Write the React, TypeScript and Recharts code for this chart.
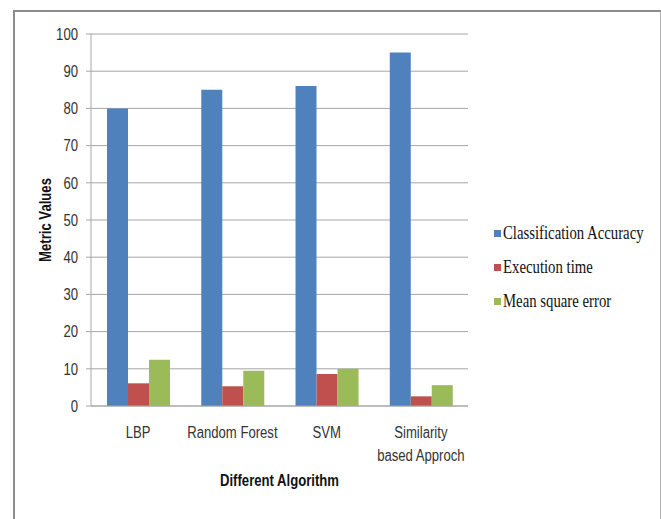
import { Bar, BarChart, CartesianGrid, Legend, XAxis, YAxis } from "recharts";

const algorithms = ["LBP", "Random Forest", "SVM", "Similarity based Approch"];
const classificationAccuracy = [80, 85, 86, 95];
const executionTime = [6.1, 5.3, 8.6, 2.6];
const meanSquareError = [12.4, 9.5, 10, 5.6];
const yTicks = [0, 10, 20, 30, 40, 50, 60, 70, 80, 90, 100];

const data = algorithms.map((algorithm, i) => ({
  algorithm,
  accuracy: classificationAccuracy[i],
  execTime: executionTime[i],
  mse: meanSquareError[i],
}));

// tick marks between categories, Excel style
const edgeTicks = algorithms.map((_, i) => i).concat(algorithms.length);

const sansFont = "'Liberation Sans', Arial, sans-serif";
const narrow = 0.82;
const gridGray = "#a6a6a6";

// greedy word wrap for long category names
function wrapLabel(label: string, maxChars = 14) {
  const lines: string[] = [];
  let line = "";
  for (const word of label.split(" ")) {
    const next = line ? line + " " + word : word;
    if (next.length > maxChars && line) {
      lines.push(line);
      line = word;
    } else {
      line = next;
    }
  }
  if (line) lines.push(line);
  return lines;
}

function ValueTick(props: any) {
  const { x, y, payload } = props;
  return (
    <text
      transform={`translate(${x},${y}) scale(${narrow},1)`}
      textAnchor="end"
      dy="0.36em"
      fontFamily={sansFont}
      fontSize={16}
      fill="#333"
    >
      {payload.value}
    </text>
  );
}

function CategoryTick(props: any) {
  const { x, y, payload } = props;
  const lines = wrapLabel(String(payload.value));
  return (
    <g transform={`translate(${x},${y + 24}) scale(${narrow},1)`}>
      {lines.map((line, i) => (
        <text key={line} x={0} y={i * 23} textAnchor="middle" fontFamily={sansFont} fontSize={16} fill="#333">
          {line}
        </text>
      ))}
    </g>
  );
}

function XTitle(props: any) {
  const { viewBox } = props;
  if (!viewBox) return null;
  const cx = viewBox.x + viewBox.width / 2;
  return (
    <text
      transform={`translate(${cx},${viewBox.y + 80}) scale(${narrow},1)`}
      textAnchor="middle"
      fontFamily={sansFont}
      fontSize={16}
      fontWeight="bold"
      fill="#111"
    >
      Different Algorithm
    </text>
  );
}

function YTitle(props: any) {
  const { viewBox } = props;
  if (!viewBox) return null;
  const cy = viewBox.y + viewBox.height / 2;
  return (
    <text
      transform={`translate(45,${cy}) rotate(-90) scale(${narrow},1)`}
      textAnchor="middle"
      dy="0.36em"
      fontFamily={sansFont}
      fontSize={16}
      fontWeight="bold"
      fill="#111"
    >
      Metric Values
    </text>
  );
}

function SeriesLegend(props: any) {
  const { payload } = props;
  return (
    <div>
      {payload.map((entry: any) => (
        <div key={entry.value} style={{ display: "flex", alignItems: "center", height: 34 }}>
          <span style={{ flexShrink: 0, width: 7, height: 7, background: entry.color, marginRight: 2 }} />
          <span
            style={{
              display: "inline-block",
              fontFamily: "'Liberation Serif', 'Times New Roman', serif",
              fontSize: 18,
              color: "#111",
              whiteSpace: "nowrap",
              transform: "scaleX(0.82)",
              transformOrigin: "left center",
            }}
          >
            {entry.value}
          </span>
        </div>
      ))}
    </div>
  );
}

export default function App() {
  return (
    <div style={{ position: "absolute", left: 0, top: 0, width: 661, height: 519, background: "#fff" }}>
      <div
        style={{
          position: "absolute",
          left: 13,
          top: 10,
          width: 645,
          height: 520,
          borderTop: "2px solid #8c8c8c",
          borderLeft: "2px solid #8c8c8c",
          borderRight: "2px solid #b0b0b0",
        }}
      />
      <BarChart
        width={661}
        height={519}
        data={data}
        margin={{ top: 34, right: 193, bottom: 33, left: 20 }}
        barCategoryGap="17%"
        barGap={0}
        style={{ position: "absolute", left: 0, top: 0 }}
      >
        <CartesianGrid vertical={false} stroke={gridGray} />
        <XAxis
          xAxisId="edges"
          type="number"
          domain={[0, algorithms.length]}
          ticks={edgeTicks}
          height={0}
          axisLine={false}
          tickLine={{ stroke: gridGray }}
          tickSize={6}
          tickFormatter={() => ""}
        />
        <XAxis
          dataKey="algorithm"
          height={80}
          interval={0}
          tickLine={false}
          axisLine={{ stroke: gridGray }}
          tick={<CategoryTick />}
          label={<XTitle />}
        />
        <YAxis
          width={71}
          domain={[0, 100]}
          ticks={yTicks}
          interval={0}
          axisLine={{ stroke: gridGray }}
          tickLine={{ stroke: gridGray }}
          tickSize={5}
          tickMargin={8}
          tick={<ValueTick />}
          label={<YTitle />}
        />
        <Legend
          layout="horizontal"
          verticalAlign="middle"
          align="center"
          content={<SeriesLegend />}
          wrapperStyle={{ left: 494, top: 216, width: 170 }}
        />
        <Bar dataKey="accuracy" name="Classification Accuracy" fill="#4F81BD" isAnimationActive={false} />
        <Bar dataKey="execTime" name="Execution time" fill="#C0504D" isAnimationActive={false} />
        <Bar dataKey="mse" name="Mean square error" fill="#9BBB59" isAnimationActive={false} />
      </BarChart>
    </div>
  );
}
